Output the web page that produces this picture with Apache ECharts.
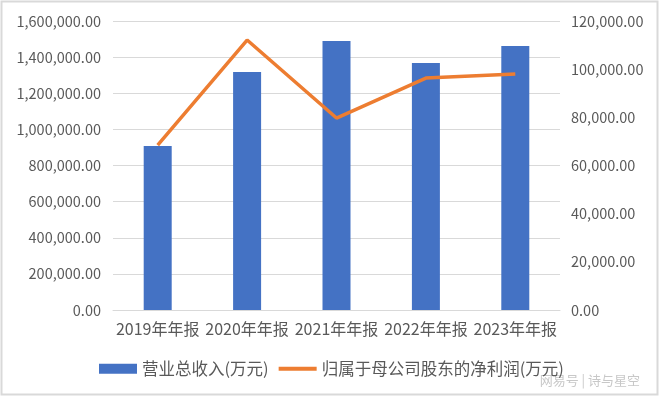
<!DOCTYPE html>
<html><head><meta charset="utf-8">
<script src="https://cdn.jsdelivr.net/npm/echarts@6/dist/echarts.min.js"></script>
<style>html,body{margin:0;padding:0;background:#fff}#c{width:660px;height:397px}</style>
</head><body><div id="c"></div>
<script>
const categories = ['2019年年报','2020年年报','2021年年报','2022年年报','2023年年报'];
const revenue = [908000, 1318000, 1489000, 1367000, 1461000];
const netProfit = [68500, 112100, 79700, 96300, 98000];
const seriesNames = ['营业总收入(万元)', '归属于母公司股东的净利润(万元)'];

const fmt = v => v.toLocaleString('en-US', {minimumFractionDigits: 2, maximumFractionDigits: 2});
const font = '"Noto Sans CJK SC", "Open Sans", sans-serif';
const chart = echarts.init(document.getElementById('c'));
chart.setOption({
  animation: false,
  backgroundColor: '#fff',
  textStyle: {fontFamily: font},
  graphic: [
    {type: 'rect', shape: {x: 1.5, y: 1.5, width: 656, height: 393}, style: {fill: 'none', stroke: '#d9d9d9', lineWidth: 2}, silent: true},
    {type: 'text', right: 20, bottom: 10, style: {text: '网易号 | 诗与星空', fill: '#c8c8c8', font: '13px ' + font}, silent: true}
  ],
  grid: {left: 113, right: 100, top: 21, bottom: 87},
  legend: {
    bottom: 15, left: 94, itemGap: 10, itemWidth: 38, itemHeight: 10,
    textStyle: {color: '#595959', fontSize: 16.5, fontFamily: font},
    data: [
      {name: seriesNames[0], icon: 'rect'},
      {name: seriesNames[1], icon: 'path://M0,0h40v4h-40z'}
    ]
  },
  xAxis: {
    type: 'category', data: categories,
    axisLine: {lineStyle: {color: '#d9d9d9', width: 1}},
    axisTick: {show: false},
    axisLabel: {color: '#595959', fontSize: 16, margin: 11, interval: 0, fontFamily: font}
  },
  yAxis: [
    {type: 'value', min: 0, max: 1600000, interval: 200000,
     axisLine: {show: false}, axisTick: {show: false},
     splitLine: {lineStyle: {color: '#d9d9d9', width: 1}},
     axisLabel: {color: '#595959', fontSize: 14.5, margin: 12, formatter: fmt, fontFamily: font}},
    {type: 'value', min: 0, max: 120000, interval: 20000,
     axisLine: {show: false}, axisTick: {show: false}, splitLine: {show: false},
     axisLabel: {color: '#595959', fontSize: 14.5, margin: 11, formatter: fmt, fontFamily: font}}
  ],
  series: [
    {name: seriesNames[0], type: 'bar', data: revenue, barWidth: 28, itemStyle: {color: '#4472c4'}},
    {name: seriesNames[1], type: 'line', yAxisIndex: 1, data: netProfit, symbol: 'none',
     lineStyle: {color: '#ed7d31', width: 3.5}, itemStyle: {color: '#ed7d31'}}
  ]
});
</script></body></html>
